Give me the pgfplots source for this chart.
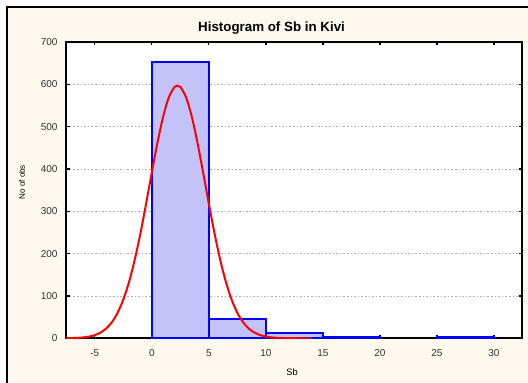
\documentclass[border=0pt]{standalone}
\usepackage{pgfplots}
\pgfplotsset{compat=1.18}
\usepackage{fontspec}
\setmainfont{Liberation Sans}
\definecolor{cream}{RGB}{253,249,238}
\definecolor{barfill}{RGB}{195,195,250}
\definecolor{gridgray}{RGB}{175,175,175}
\begin{document}
\begin{tikzpicture}
\useasboundingbox (0,0) rectangle (396pt,286.5pt);
\begin{scope}
\clip (0,0) rectangle (396pt,286.5pt);
\fill[white] (0,0) rectangle (396pt,286.5pt);
\fill[cream] (5.25pt,-5pt) rectangle (400pt,281.25pt);
\draw[line width=1.5pt] (5.25pt,-5pt) -- (5.25pt,281.25pt) -- (400pt,281.25pt);
\end{scope}
\begin{axis}[
  at={(49.7pt,32.8pt)}, anchor=south west,
  scale only axis, width=342.15pt, height=222.2pt,
  xmin=-7.5, xmax=32.5, ymin=0, ymax=700,
  axis background/.style={fill=white},
  axis line style={line width=1.5pt},
  xtick={-5,0,5,10,15,20,25,30},
  ytick={0,100,...,700},
  tick align=inside,
  major tick length=2.5pt,
  tick style={line width=1pt, black},
  ymajorgrids,
  major grid style={gridgray, line width=0.6pt, dash pattern=on 1.2pt off 1.5pt},
  /pgf/number format/assume math mode=true,
  tick label style={font=\fontsize{7.5}{9}\selectfont, color=black!80},
  xticklabel style={yshift=-5pt},
  yticklabel style={xshift=-3pt},
  xlabel={Sb},
  xlabel style={at={(axis description cs:0.495,-0.114)}, anchor=center, font=\fontsize{7}{8}\selectfont},
  ylabel={No of obs},
  ylabel style={at={(axis description cs:-0.097,0.527)}, anchor=center, font=\fontsize{6}{7}\selectfont},
  title={Histogram of Sb in Kivi},
  every axis title shift=0pt,
  title style={at={(axis description cs:0.45,1.047)}, anchor=center, font=\bfseries\fontsize{10}{12}\selectfont},
]
\addplot[ybar interval, draw=blue, line width=1.3pt, fill=barfill]
  coordinates {(0,653) (5,46) (10,13) (15,3) (20,3)};
\addplot[ybar interval, draw=blue, line width=1.3pt, fill=barfill]
  coordinates {(25,3) (30,3)};
\addplot[red, line width=1.5pt, smooth] coordinates {
(-7.5,0.22) (-7,0.48) (-6.5,1.01) (-6,2.06) (-5.5,4.01) (-5,7.49)
(-4.5,13.4) (-4,23.1) (-3.5,38.0) (-3,60.1) (-2.5,91.2) (-2,132.6)
(-1.5,185.1) (-1,247.6) (-0.5,318.0) (0,391.6) (0.5,462.6) (1,524.2)
(1.5,569.7) (2,593.9) (2.25,597) (2.5,593.9) (3,569.7) (3.5,524.2)
(4,462.6) (4.5,391.6) (5,318.0) (5.5,247.6) (6,185.1) (6.5,132.6)
(7,91.2) (7.5,60.1) (8,38.0) (8.5,23.1) (9,13.4) (9.5,7.49)
(10,4.01) (10.5,2.06) (11,1.01) (11.5,0.48) (12,0.22) (12.5,0.09)
(13,0.04) (14,0.01)};
\end{axis}
\end{tikzpicture}
\end{document}
